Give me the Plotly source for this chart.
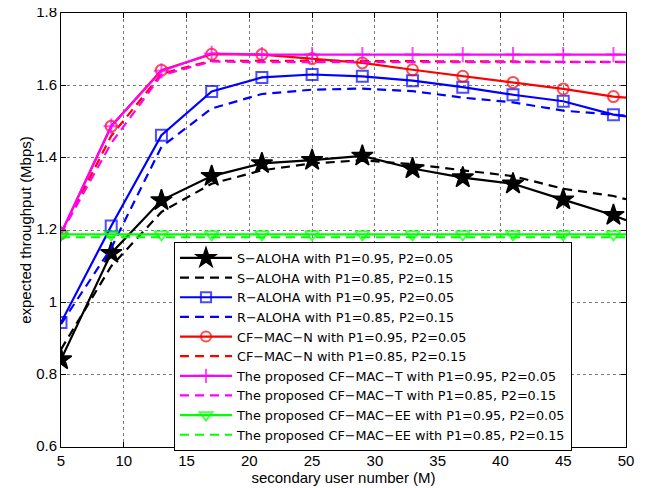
import plotly.graph_objects as go

# ---- data ----
x_users = [5, 9, 13, 17, 21, 25, 29, 33, 37, 41, 45, 49, 50]

s_aloha_95 = [0.842, 1.136, 1.282, 1.349, 1.384, 1.393, 1.405, 1.370, 1.345, 1.328, 1.284, 1.241, 1.227]
s_aloha_85 = [0.870, 1.100, 1.250, 1.328, 1.365, 1.384, 1.393, 1.382, 1.365, 1.349, 1.314, 1.294, 1.285]
r_aloha_95 = [0.944, 1.211, 1.462, 1.583, 1.622, 1.630, 1.625, 1.613, 1.595, 1.574, 1.556, 1.519, 1.514]
r_aloha_85 = [0.940, 1.150, 1.430, 1.536, 1.576, 1.588, 1.591, 1.584, 1.566, 1.553, 1.530, 1.520, 1.516]
cfn_95 = [1.190, 1.487, 1.642, 1.686, 1.685, 1.674, 1.662, 1.643, 1.625, 1.608, 1.590, 1.569, 1.566]
cfn_85 = [1.190, 1.460, 1.632, 1.668, 1.668, 1.668, 1.667, 1.667, 1.666, 1.666, 1.665, 1.665, 1.665]
cft_95 = [1.190, 1.487, 1.640, 1.688, 1.685, 1.685, 1.685, 1.685, 1.685, 1.685, 1.685, 1.685, 1.685]
cft_85 = [1.190, 1.440, 1.628, 1.666, 1.664, 1.664, 1.664, 1.664, 1.664, 1.664, 1.664, 1.664, 1.664]
cfee_95 = [1.188, 1.188, 1.188, 1.188, 1.188, 1.188, 1.188, 1.188, 1.188, 1.188, 1.188, 1.188, 1.188]
cfee_85 = [1.180, 1.180, 1.180, 1.180, 1.180, 1.180, 1.180, 1.180, 1.180, 1.180, 1.180, 1.180, 1.180]

labels = [
    "S\u2212ALOHA with P1=0.95, P2=0.05",
    "S\u2212ALOHA with P1=0.85, P2=0.15",
    "R\u2212ALOHA with P1=0.95, P2=0.05",
    "R\u2212ALOHA with P1=0.85, P2=0.15",
    "CF\u2212MAC\u2212N with P1=0.95, P2=0.05",
    "CF\u2212MAC\u2212N with P1=0.85, P2=0.15",
    "The proposed CF\u2212MAC\u2212T with P1=0.95, P2=0.05",
    "The proposed CF\u2212MAC\u2212T with P1=0.85, P2=0.15",
    "The proposed CF\u2212MAC\u2212EE with P1=0.95, P2=0.05",
    "The proposed CF\u2212MAC\u2212EE with P1=0.85, P2=0.15",
]

x_ticks = [5, 10, 15, 20, 25, 30, 35, 40, 45, 50]
y_ticks = [0.6, 0.8, 1.0, 1.2, 1.4, 1.6, 1.8]
y_tick_text = ["0.6", "0.8", "1", "1.2", "1.4", "1.6", "1.8"]

DASH = "9px,6px"
LW = 2.2
FONT = "Liberation Sans, Arial, Helvetica"
LEGFONT = "DejaVu Sans, Liberation Sans"

# marker only on the real sample points (last point is the axis edge)
def msizes(s):
    return [s] * (len(x_users) - 1) + [0]

series = [
    (s_aloha_95, "#000000", "solid", dict(symbol="star", size=msizes(16), color="#000000",
                                          opacity=1, line=dict(color="#000000", width=1.5))),
    (s_aloha_85, "#000000", DASH, None),
    (r_aloha_95, "#0000ff", "solid", dict(symbol="square-open", size=msizes(11), color="#0000ff",
                                          line=dict(color="#0000ff", width=2))),
    (r_aloha_85, "#0000ff", DASH, None),
    (cfn_95, "#ff0000", "solid", dict(symbol="circle-open", size=msizes(11), color="#ff0000",
                                      line=dict(color="#ff0000", width=2))),
    (cfn_85, "#ff0000", DASH, None),
    (cft_95, "#ff00ff", "solid", dict(symbol="cross-thin-open", size=msizes(11), color="#ff00ff",
                                      line=dict(color="#ff00ff", width=2))),
    (cft_85, "#ff00ff", DASH, None),
    (cfee_95, "#00ff00", "solid", dict(symbol="triangle-down-open", size=msizes(12), color="#00ff00",
                                       line=dict(color="#00ff00", width=2))),
    (cfee_85, "#00ff00", DASH, None),
]

fig = go.Figure()
for (vals, col, dash, mk), name in zip(series, labels):
    fig.add_trace(go.Scatter(
        x=x_users, y=vals, name=name,
        mode="lines+markers" if mk else "lines",
        line=dict(color=col, width=LW, dash=dash),
        marker=mk if mk else None,
        cliponaxis=True,
    ))

axis_common = dict(
    showline=True, linecolor="black", linewidth=1, mirror="ticks",
    ticks="inside", ticklen=5, tickcolor="black", tickwidth=1,
    showgrid=True, gridcolor="#7a7a7a", griddash="dot", gridwidth=1,
    zeroline=False, tickfont=dict(family=FONT, size=15, color="black"),
    ticklabeloverflow="allow",
)

fig.update_xaxes(range=[5, 50], tickvals=x_ticks,
                 title=dict(text="secondary user number (M)", standoff=4,
                            font=dict(family=FONT, size=15, color="black")),
                 **axis_common)
fig.update_yaxes(range=[0.6, 1.8], tickvals=y_ticks, ticktext=y_tick_text,
                 ticklabelshift=-1,
                 title=dict(text="expected throughput (Mbps)", standoff=0,
                            font=dict(family=FONT, size=15, color="black")),
                 **axis_common)

# the page body adds an 8px offset, so the figure is sized/margined to compensate
fig.update_layout(
    width=641, height=480,
    margin=dict(l=53, r=23, t=5, b=41, autoexpand=False),
    paper_bgcolor="white", plot_bgcolor="white",
    font=dict(family=FONT, size=15, color="black"),
    legend=dict(
        x=0.2, y=0.472, xanchor="left", yanchor="top",
        bgcolor="white", bordercolor="black", borderwidth=1,
        font=dict(family=LEGFONT, size=12.8, color="black"),
        itemwidth=52, tracegroupgap=0,
    ),
    showlegend=True,
)

fig.write_html("out.html")
